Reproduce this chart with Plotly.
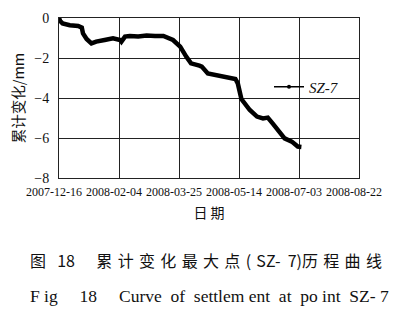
import plotly.graph_objects as go

dates = ["2007-12-16", "2007-12-17", "2007-12-19", "2007-12-22", "2007-12-25", "2008-01-01",
         "2008-01-04", "2008-01-05", "2008-01-08", "2008-01-12", "2008-01-16", "2008-01-23",
         "2008-01-30", "2008-02-05", "2008-02-06", "2008-02-09", "2008-02-13", "2008-02-20",
         "2008-02-27", "2008-03-05", "2008-03-12", "2008-03-20", "2008-03-26", "2008-03-31",
         "2008-04-04", "2008-04-11", "2008-04-13", "2008-04-18", "2008-04-24", "2008-05-02",
         "2008-05-11", "2008-05-13", "2008-05-14", "2008-05-16", "2008-05-23", "2008-05-29",
         "2008-06-03", "2008-06-07", "2008-06-11", "2008-06-16", "2008-06-21", "2008-06-27",
         "2008-07-02", "2008-07-05"]
settlement = [0.0, -0.15, -0.27, -0.33, -0.36, -0.4,
              -0.48, -0.77, -1.05, -1.27, -1.18, -1.1,
              -1.02, -1.1, -1.18, -0.93, -0.9, -0.92,
              -0.88, -0.9, -0.9, -1.1, -1.43, -1.93,
              -2.27, -2.38, -2.43, -2.77, -2.85, -2.93,
              -3.05, -3.27, -3.55, -4.05, -4.6, -4.93,
              -5.02, -4.98, -5.27, -5.68, -6.02, -6.18,
              -6.43, -6.45]
series_name = "SZ-7"
tick_dates = ["2007-12-16", "2008-02-04", "2008-03-25", "2008-05-14", "2008-07-03", "2008-08-22"]
y_ticks = [0, -2, -4, -6, -8]
y_tick_text = ["0", "−2", "−4", "−6", "−8"]

serif = "Liberation Serif"
cjk = "Noto Sans CJK SC"

fig = go.Figure()
fig.add_trace(go.Scatter(x=dates, y=settlement, mode="lines", showlegend=False,
                         line=dict(color="black", width=4.5)))
fig.add_trace(go.Scatter(x=[None], y=[None], mode="lines+markers", name="<i>" + series_name + "</i>",
                         line=dict(color="black", width=1.5), marker=dict(size=4, color="black")))

axis_common = dict(showline=True, linecolor="#222", linewidth=1, mirror=True,
                   showgrid=True, gridcolor="#222", gridwidth=1, zeroline=False,
                   ticks="inside", ticklen=3, tickcolor="#222")

fig.update_xaxes(type="date", range=["2007-12-16", "2008-08-22"], tickvals=tick_dates,
                 ticktext=tick_dates, tickangle=0, ticklabelstandoff=3, ticklabelshift=-5,
                 tickfont=dict(family=serif, size=12, color="#111"),
                 title=dict(text="日\u2009期", font=dict(family=cjk, size=14, color="#111"), standoff=9),
                 **axis_common)
fig.update_yaxes(range=[-8, 0], tickvals=y_ticks, ticktext=y_tick_text, ticklabelstandoff=6,
                 tickfont=dict(family=serif, size=14, color="#111"),
                 title=dict(text="累计变化/mm", font=dict(family=cjk, size=14.5, color="#111"), standoff=6),
                 **axis_common)

g = "\u2004"
nb = "\u00a0"
cap1 = ("图\u2002\u200918\u2003\u2004" + g.join("累计变化最大点") + g + "(" + g + "SZ-" + nb * 2 + "7)"
        + g.join("历程曲线"))
cap2 = ("F" + nb + "ig" + nb * 5 + "18" + nb * 5
        + (nb * 2).join(["Curve", "of", "settlem" + nb + "ent", "at", "po" + nb + "int", "SZ-" + nb + "7"]))
fig.add_annotation(xref="paper", yref="paper", x=0.49, y=-0.5125, xanchor="center", yanchor="middle",
                   text=cap1, showarrow=False, font=dict(family=cjk, size=16, color="#111"))
fig.add_annotation(xref="paper", yref="paper", x=0.5, y=-0.74, xanchor="center", yanchor="middle",
                   text=cap2, showarrow=False, font=dict(family=serif, size=17.5, color="#111"))

fig.update_layout(
    width=401, height=310,
    margin=dict(l=59, r=42, t=18, b=132),
    paper_bgcolor="white", plot_bgcolor="white",
    font=dict(family=serif, color="#111"),
    legend=dict(x=0.70, y=0.569, xanchor="left", yanchor="middle", bgcolor="rgba(0,0,0,0)",
                font=dict(family=serif, size=15, color="#111"), itemwidth=30),
)

fig.write_html("out.html")
